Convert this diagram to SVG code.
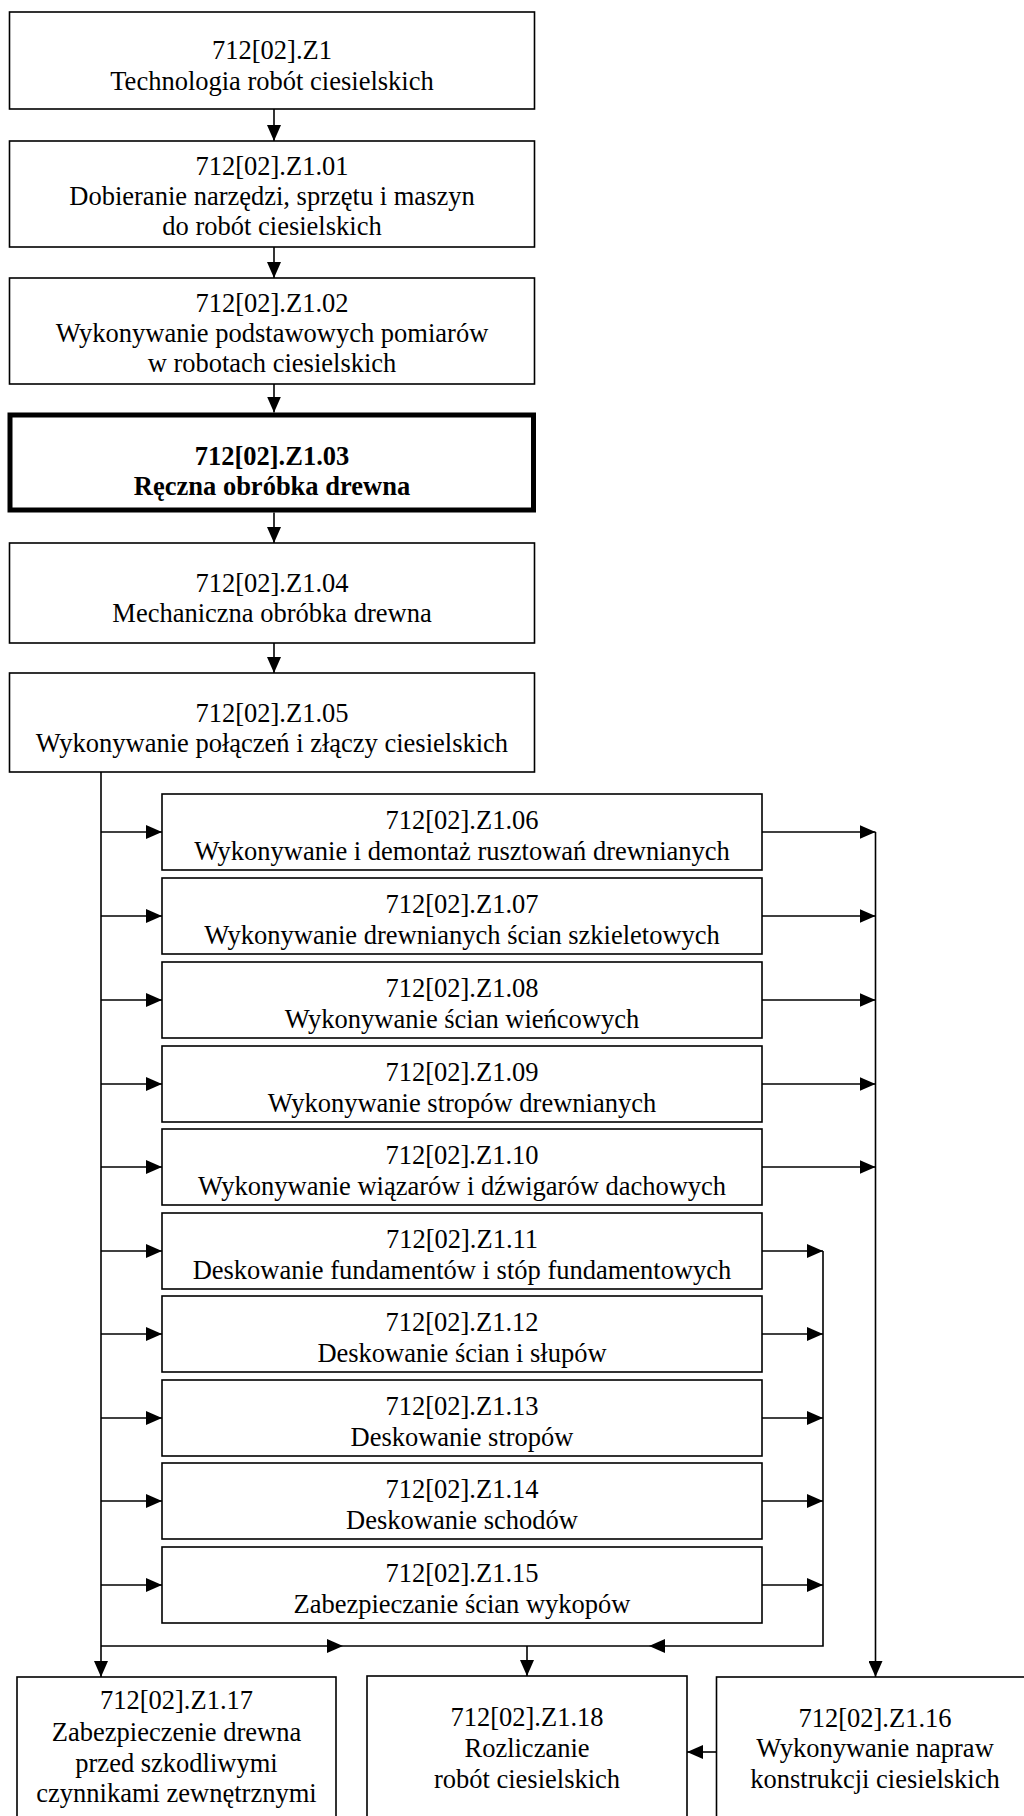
<svg xmlns="http://www.w3.org/2000/svg" width="1024" height="1816" viewBox="0 0 1024 1816">
<style>
.box{fill:#fff;stroke:#000;stroke-width:1.6}
.bold{fill:#fff;stroke:#000;stroke-width:5}
.t{font-family:"Liberation Serif","Times New Roman",serif;font-size:26.5px;text-anchor:middle;fill:#000}
.tb{font-weight:bold}
.c{fill:none;stroke:#000;stroke-width:1.6}
</style>
<defs>
<marker id="ah" markerUnits="userSpaceOnUse" markerWidth="16" markerHeight="14" refX="16" refY="7" orient="auto">
<path d="M0,0 L16,7 L0,14 z" fill="#000"/>
</marker>
</defs>
<rect width="1024" height="1816" fill="#fff"/>

<g id="n01"><rect class="box" x="9.5" y="12" width="525" height="97"/>
<text class="t" x="272" y="59">712[02].Z1</text>
<text class="t" x="272" y="90">Technologia robót ciesielskich</text></g>

<g id="n02"><rect class="box" x="9.5" y="141" width="525" height="106"/>
<text class="t" x="272" y="175">712[02].Z1.01</text>
<text class="t" x="272" y="205">Dobieranie narzędzi, sprzętu i maszyn</text>
<text class="t" x="272" y="235">do robót ciesielskich</text></g>

<g id="n03"><rect class="box" x="9.5" y="278" width="525" height="106"/>
<text class="t" x="272" y="312">712[02].Z1.02</text>
<text class="t" x="272" y="342">Wykonywanie podstawowych pomiarów</text>
<text class="t" x="272" y="372">w robotach ciesielskich</text></g>

<g id="n04"><rect class="bold" x="10" y="415" width="523.5" height="95"/>
<text class="t tb" x="272" y="465">712[02].Z1.03</text>
<text class="t tb" x="272" y="495">Ręczna obróbka drewna</text></g>

<g id="n05"><rect class="box" x="9.5" y="543" width="525" height="100"/>
<text class="t" x="272" y="592">712[02].Z1.04</text>
<text class="t" x="272" y="622">Mechaniczna obróbka drewna</text></g>

<g id="n06"><rect class="box" x="9.5" y="673" width="525" height="99"/>
<text class="t" x="272" y="722">712[02].Z1.05</text>
<text class="t" x="272" y="752">Wykonywanie połączeń i złączy ciesielskich</text></g>

<g id="n07"><rect class="box" x="162" y="794" width="600" height="76"/>
<text class="t" x="462" y="829">712[02].Z1.06</text>
<text class="t" x="462" y="860">Wykonywanie i demontaż rusztowań drewnianych</text></g>

<g id="n08"><rect class="box" x="162" y="878" width="600" height="76"/>
<text class="t" x="462" y="913">712[02].Z1.07</text>
<text class="t" x="462" y="944">Wykonywanie drewnianych ścian szkieletowych</text></g>

<g id="n09"><rect class="box" x="162" y="962" width="600" height="76"/>
<text class="t" x="462" y="997">712[02].Z1.08</text>
<text class="t" x="462" y="1028">Wykonywanie ścian wieńcowych</text></g>

<g id="n10"><rect class="box" x="162" y="1046" width="600" height="76"/>
<text class="t" x="462" y="1081">712[02].Z1.09</text>
<text class="t" x="462" y="1112">Wykonywanie stropów drewnianych</text></g>

<g id="n11"><rect class="box" x="162" y="1129" width="600" height="76"/>
<text class="t" x="462" y="1164">712[02].Z1.10</text>
<text class="t" x="462" y="1195">Wykonywanie wiązarów i dźwigarów dachowych</text></g>

<g id="n12"><rect class="box" x="162" y="1213" width="600" height="76"/>
<text class="t" x="462" y="1248">712[02].Z1.11</text>
<text class="t" x="462" y="1279">Deskowanie fundamentów i stóp fundamentowych</text></g>

<g id="n13"><rect class="box" x="162" y="1296" width="600" height="76"/>
<text class="t" x="462" y="1331">712[02].Z1.12</text>
<text class="t" x="462" y="1362">Deskowanie ścian i słupów</text></g>

<g id="n14"><rect class="box" x="162" y="1380" width="600" height="76"/>
<text class="t" x="462" y="1415">712[02].Z1.13</text>
<text class="t" x="462" y="1446">Deskowanie stropów</text></g>

<g id="n15"><rect class="box" x="162" y="1463" width="600" height="76"/>
<text class="t" x="462" y="1498">712[02].Z1.14</text>
<text class="t" x="462" y="1529">Deskowanie schodów</text></g>

<g id="n16"><rect class="box" x="162" y="1547" width="600" height="76"/>
<text class="t" x="462" y="1582">712[02].Z1.15</text>
<text class="t" x="462" y="1613">Zabezpieczanie ścian wykopów</text></g>

<g id="n17"><rect class="box" x="17" y="1677" width="319" height="160"/>
<text class="t" x="176.5" y="1709">712[02].Z1.17</text>
<text class="t" x="176.5" y="1741">Zabezpieczenie drewna</text>
<text class="t" x="176.5" y="1772">przed szkodliwymi</text>
<text class="t" x="176.5" y="1802">czynnikami zewnętrznymi</text></g>

<g id="n18"><rect class="box" x="367" y="1676" width="320" height="160"/>
<text class="t" x="527" y="1726">712[02].Z1.18</text>
<text class="t" x="527" y="1757">Rozliczanie</text>
<text class="t" x="527" y="1788">robót ciesielskich</text></g>

<g id="n19"><rect class="box" x="716.5" y="1677" width="318" height="160"/>
<text class="t" x="875" y="1727">712[02].Z1.16</text>
<text class="t" x="875" y="1757">Wykonywanie napraw</text>
<text class="t" x="875" y="1788">konstrukcji ciesielskich</text></g>

<g id="connectors" class="c">
<line x1="274" y1="109" x2="274" y2="141" marker-end="url(#ah)"/>
<line x1="274" y1="247" x2="274" y2="278" marker-end="url(#ah)"/>
<line x1="274" y1="384" x2="274" y2="412.5" marker-end="url(#ah)"/>
<line x1="274" y1="512.5" x2="274" y2="543" marker-end="url(#ah)"/>
<line x1="274" y1="643" x2="274" y2="673" marker-end="url(#ah)"/>

<line x1="101" y1="772" x2="101" y2="1677" marker-end="url(#ah)"/>
<line x1="101" y1="832" x2="162" y2="832" marker-end="url(#ah)"/>
<line x1="101" y1="916" x2="162" y2="916" marker-end="url(#ah)"/>
<line x1="101" y1="1000" x2="162" y2="1000" marker-end="url(#ah)"/>
<line x1="101" y1="1084" x2="162" y2="1084" marker-end="url(#ah)"/>
<line x1="101" y1="1167" x2="162" y2="1167" marker-end="url(#ah)"/>
<line x1="101" y1="1251" x2="162" y2="1251" marker-end="url(#ah)"/>
<line x1="101" y1="1334" x2="162" y2="1334" marker-end="url(#ah)"/>
<line x1="101" y1="1418" x2="162" y2="1418" marker-end="url(#ah)"/>
<line x1="101" y1="1501" x2="162" y2="1501" marker-end="url(#ah)"/>
<line x1="101" y1="1585" x2="162" y2="1585" marker-end="url(#ah)"/>

<line x1="762" y1="832" x2="875.5" y2="832" marker-end="url(#ah)"/>
<line x1="762" y1="916" x2="875.5" y2="916" marker-end="url(#ah)"/>
<line x1="762" y1="1000" x2="875.5" y2="1000" marker-end="url(#ah)"/>
<line x1="762" y1="1084" x2="875.5" y2="1084" marker-end="url(#ah)"/>
<line x1="762" y1="1167" x2="875.5" y2="1167" marker-end="url(#ah)"/>
<line x1="875.5" y1="832" x2="875.5" y2="1677" marker-end="url(#ah)"/>

<line x1="762" y1="1251" x2="823" y2="1251" marker-end="url(#ah)"/>
<line x1="762" y1="1334" x2="823" y2="1334" marker-end="url(#ah)"/>
<line x1="762" y1="1418" x2="823" y2="1418" marker-end="url(#ah)"/>
<line x1="762" y1="1501" x2="823" y2="1501" marker-end="url(#ah)"/>
<line x1="762" y1="1585" x2="823" y2="1585" marker-end="url(#ah)"/>
<polyline points="823,1251 823,1646 649,1646" marker-end="url(#ah)"/>
<line x1="649" y1="1646" x2="527" y2="1646"/>
<line x1="101" y1="1646" x2="343" y2="1646" marker-end="url(#ah)"/>
<line x1="343" y1="1646" x2="527" y2="1646"/>
<line x1="527" y1="1646" x2="527" y2="1676" marker-end="url(#ah)"/>
<line x1="716.5" y1="1752" x2="687" y2="1752" marker-end="url(#ah)"/>
</g>
</svg>
